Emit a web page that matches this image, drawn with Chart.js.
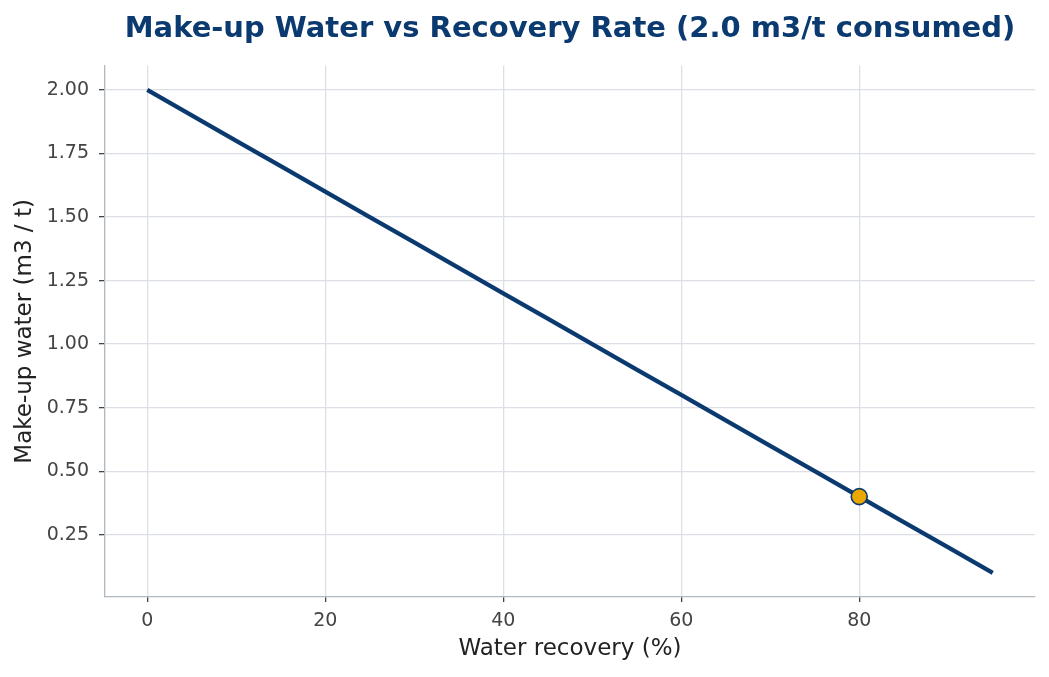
<!DOCTYPE html>
<html>
<head>
<meta charset="utf-8">
<script src="https://cdn.jsdelivr.net/npm/chart.js@4"></script>
<style>
  html, body { margin: 0; padding: 0; background: #fff; }
  #wrap { width: 1049px; height: 677px; }
</style>
</head>
<body>
<div id="wrap"><canvas id="chart" width="1049" height="677"></canvas></div>
<script>
// Data
const recovery = [0, 5, 10, 15, 20, 25, 30, 35, 40, 45, 50, 55, 60, 65, 70, 75, 80, 85, 90, 95];
const makeupWater = [2.0, 1.9, 1.8, 1.7, 1.6, 1.5, 1.4, 1.3, 1.2, 1.1, 1.0, 0.9, 0.8, 0.7, 0.6, 0.5, 0.4, 0.3, 0.2, 0.1];
const markerX = [80];
const markerY = [0.4];
const xTicks = [0, 20, 40, 60, 80];
const yTicks = [0.25, 0.5, 0.75, 1.0, 1.25, 1.5, 1.75, 2.0];

const navy = '#0b3a70';
const gridColor = '#dce0e6';
const font = 'DejaVu Sans';

const ctx = document.getElementById('chart').getContext('2d');
new Chart(ctx, {
    type: 'scatter',
    data: {
        datasets: [
            {
                data: markerX.map((x, i) => ({ x: x, y: markerY[i] })),
                pointRadius: 8,
                pointBackgroundColor: '#e8a800',
                pointBorderColor: navy,
                pointBorderWidth: 1.6,
                showLine: false,
                order: 0
            },
            {
                data: recovery.map((x, i) => ({ x: x, y: makeupWater[i] })),
                showLine: true,
                borderColor: navy,
                borderWidth: 4.3,
                pointRadius: 0,
                order: 1
            }
        ]
    },
    options: {
        responsive: false,
        animation: false,
        layout: { padding: { left: 0, right: 14, top: 0, bottom: 0 } },
        plugins: {
            legend: { display: false },
            tooltip: { enabled: false },
            title: {
                display: true,
                fullSize: false,
                text: 'Make-up Water vs Recovery Rate (2.0 m3/t consumed)',
                color: navy,
                font: { family: font, size: 29, weight: 'bold' },
                padding: { top: 12, bottom: 19 }
            }
        },
        scales: {
            x: {
                type: 'linear',
                min: -4.75,
                max: 99.75,
                afterBuildTicks: s => { s.ticks = xTicks.map(v => ({ value: v })); },
                afterFit: s => { s.height = 80; },
                border: { display: true, color: '#b0b8c0', width: 1.3 },
                grid: { color: gridColor, lineWidth: 1.3, tickColor: '#444', tickLength: 5, tickWidth: 1.3 },
                ticks: { color: '#444', font: { family: font, size: 19 }, padding: 8, maxRotation: 0 },
                title: {
                    display: true,
                    text: 'Water recovery (%)',
                    color: '#222',
                    font: { family: font, size: 23 },
                    padding: { top: 4, bottom: 14 }
                }
            },
            y: {
                type: 'linear',
                min: 0.005,
                max: 2.095,
                afterBuildTicks: s => { s.ticks = yTicks.map(v => ({ value: v })); },
                afterFit: s => { s.width = 105; },
                border: { display: true, color: '#b0b8c0', width: 1.3 },
                grid: { color: gridColor, lineWidth: 1.3, tickColor: '#444', tickLength: 6, tickWidth: 1.3 },
                ticks: {
                    color: '#444',
                    font: { family: font, size: 19 },
                    padding: 10,
                    callback: v => Number(v).toFixed(2)
                },
                title: {
                    display: true,
                    text: 'Make-up water (m3 / t)',
                    color: '#222',
                    font: { family: font, size: 23 },
                    padding: { top: 11, bottom: 4 }
                }
            }
        }
    }
});
</script>
</body>
</html>
